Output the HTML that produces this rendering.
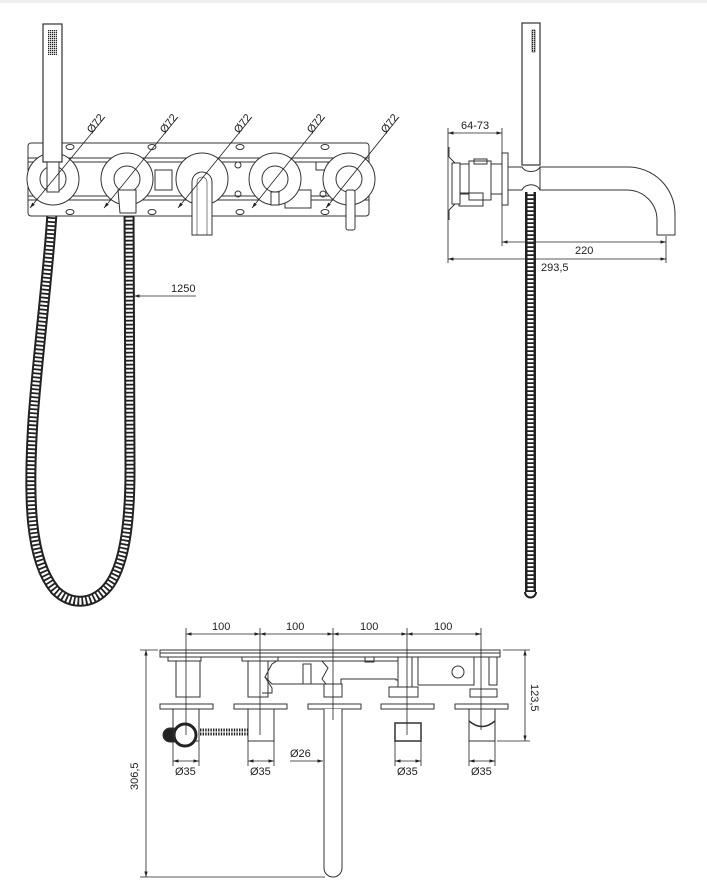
<!DOCTYPE html>
<html><head><meta charset="utf-8"><style>
html,body{margin:0;padding:0;background:#fff;}
svg{display:block;}
text{font-family:"Liberation Sans",sans-serif;font-size:11px;fill:#222;}
</style></head><body>
<svg width="707" height="884" viewBox="0 0 707 884" xmlns="http://www.w3.org/2000/svg">
<defs>
<marker id="a" viewBox="0 0 10 10" refX="10" refY="5" markerWidth="7" markerHeight="7" orient="auto-start-reverse"><path d="M0,2 L10,5 L0,8 z" fill="#222"/></marker>
<pattern id="g" width="2" height="2" patternUnits="userSpaceOnUse"><rect width="1.3" height="1.3" fill="#222"/></pattern>
</defs>
<rect x="0" y="0" width="707" height="3" fill="#eee"/>
<g fill="none" stroke="#333" stroke-width="1">
<!-- FRONT VIEW -->
<path d="M53,195 C50,260 38,350 33,420 C28,500 30,560 55,590 C70,605 90,605 105,590 C125,570 130,520 130,470 L129,200" stroke="#222" stroke-width="11"/>
<path d="M53,195 C50,260 38,350 33,420 C28,500 30,560 55,590 C70,605 90,605 105,590 C125,570 130,520 130,470 L129,200" stroke="#fff" stroke-width="7" stroke-dasharray="2.2 1.8"/>
<rect x="28" y="143" width="341" height="73" rx="3" fill="#fff"/>
<line x1="28" y1="158" x2="369" y2="158"/><line x1="28" y1="162" x2="369" y2="162"/>
<line x1="28" y1="196" x2="369" y2="196"/><line x1="28" y1="200" x2="369" y2="200"/>
<g>
<ellipse cx="70" cy="147" rx="4" ry="2.5"/><ellipse cx="152" cy="147" rx="4" ry="2.5"/><ellipse cx="240" cy="147" rx="4" ry="2.5"/><ellipse cx="325" cy="147" rx="4" ry="2.5"/>
<ellipse cx="70" cy="212" rx="4" ry="2.5"/><ellipse cx="152" cy="212" rx="4" ry="2.5"/><ellipse cx="240" cy="212" rx="4" ry="2.5"/><ellipse cx="325" cy="212" rx="4" ry="2.5"/>
<circle cx="238" cy="165" r="3"/><circle cx="238" cy="194" r="3"/><circle cx="323" cy="194" r="3"/>
<rect x="155" y="170" width="17" height="20" fill="#fff"/>
<rect x="285" y="190" width="26" height="18" fill="#fff"/>
<rect x="316" y="162" width="12" height="8" fill="#fff"/>
</g>
<g fill="#fff">
<circle cx="53" cy="179" r="26"/><circle cx="53" cy="179" r="13"/>
<circle cx="127" cy="179" r="26"/><circle cx="127" cy="179" r="13"/>
<circle cx="202" cy="179" r="26"/>
<circle cx="275" cy="179" r="26"/><circle cx="275" cy="179" r="13"/>
<circle cx="349" cy="179" r="26"/><circle cx="349" cy="179" r="13"/>
</g>
<rect x="43" y="24" width="19" height="138" fill="#fff" stroke-width="1.2"/>
<rect x="48" y="30" width="9" height="25" fill="url(#g)" stroke="none"/>
<rect x="47" y="162" width="12" height="30" fill="#fff"/>
<path d="M118,190 L136,190 L136,213 L120,213 Z" fill="#fff"/>
<path d="M192,235 L192,182 A10,10 0 0 1 212,182 L212,235 Z" fill="#fff"/>
<path d="M197,235 L197,182 A5,5 0 0 1 207,182 L207,235" stroke-width="0.6"/>
<rect x="271" y="192" width="8" height="13" fill="#fff"/>
<rect x="346" y="190" width="9" height="40" rx="2" fill="#fff"/>
<g stroke="#222" stroke-width="0.8">
<line x1="30" y1="208" x2="105" y2="117" marker-start="url(#a)"/>
<line x1="104" y1="208" x2="178" y2="117" marker-start="url(#a)"/>
<line x1="178" y1="208" x2="252" y2="117" marker-start="url(#a)"/>
<line x1="252" y1="208" x2="325" y2="117" marker-start="url(#a)"/>
<line x1="326" y1="208" x2="399" y2="117" marker-start="url(#a)"/>
</g>
<line x1="196" y1="296" x2="134" y2="296" stroke="#222" stroke-width="0.8" marker-end="url(#a)"/>

<!-- SIDE VIEW -->
<path d="M530.5,192 L530.5,592" stroke="#222" stroke-width="11"/>
<path d="M530.5,192 L530.5,594" stroke="#fff" stroke-width="6" stroke-dasharray="2.2 1.8"/>
<path d="M525,592 A5.5,5.5 0 0 0 536,592" stroke="#222" stroke-width="2"/>
<rect x="522" y="23" width="18" height="142" fill="#fff" stroke-width="1.2"/>
<rect x="532" y="30" width="3" height="22" fill="url(#g)" stroke="#222" stroke-width="0.6"/>
<path d="M508,167 L522,167 C525,173 537,173 540,167 L628,167 A47,47 0 0 1 675,214 L675,235 L657,235 L657,220 A30,30 0 0 0 627,190 L540,190 C537,183 525,183 522,190 L508,190" fill="#fff"/>
<line x1="540" y1="167" x2="540" y2="190"/>
<rect x="502" y="153" width="6" height="52" fill="#fff"/>
<rect x="460" y="164" width="42" height="30" fill="#fff"/>
<rect x="469" y="161" width="22" height="39" fill="#fff"/>
<rect x="459" y="193" width="24" height="13"/>
<rect x="452" y="163" width="8" height="41" fill="#fff"/>
<path d="M449,157 L449,147 M449,210 L449,220 M449,157 L455,163 M449,210 L455,204"/>
<rect x="474" y="159" width="13" height="5"/>
<g stroke="#222" stroke-width="0.8">
<line x1="448" y1="128" x2="448" y2="263"/><line x1="502" y1="128" x2="502" y2="153"/>
<line x1="502" y1="205" x2="502" y2="246"/><line x1="666" y1="236" x2="666" y2="263"/>
<line x1="448" y1="133" x2="502" y2="133" marker-start="url(#a)" marker-end="url(#a)"/>
<line x1="502" y1="242" x2="666" y2="242" marker-start="url(#a)" marker-end="url(#a)"/>
<line x1="448" y1="259" x2="666" y2="259" marker-start="url(#a)" marker-end="url(#a)"/>
</g>

<!-- BOTTOM VIEW -->
<rect x="160" y="650" width="340" height="7" fill="#fff"/>
<line x1="160" y1="653" x2="500" y2="653"/>
<rect x="168" y="657" width="33" height="4"/><rect x="242" y="657" width="36" height="4"/>
<path d="M265,661 L277,661 L275,666 L265,677 L272,688 L272,693 L262,693" />
<path d="M277,661 L322,661 L328,668 L322,679 L326,684 L272,684 L265,677 L272,664 Z" fill="#fff"/>
<rect x="303" y="664" width="8" height="20"/>
<path d="M322,661 L398,661 L398,680 L396,680 L396,679 L341,679 L341,684 L327,684"/>
<rect x="365" y="657" width="9" height="5"/>
<rect x="398" y="657" width="14" height="30"/>
<rect x="418" y="657" width="56" height="28"/><circle cx="458" cy="672" r="6"/>
<rect x="489" y="657" width="8" height="28"/>
<rect x="389" y="687" width="29" height="10"/>
<rect x="470" y="689" width="27" height="8"/>
<rect x="176" y="661" width="24" height="36"/><rect x="248" y="661" width="20" height="36"/>
<rect x="324" y="684" width="18" height="13"/>
<rect x="160" y="704" width="53" height="5"/><rect x="234" y="704" width="53" height="5"/>
<rect x="308" y="704" width="53" height="5"/><rect x="381" y="704" width="53" height="5"/><rect x="455" y="704" width="53" height="5"/>
<rect x="173" y="709" width="26" height="32"/><rect x="248" y="709" width="26" height="32"/>
<rect x="395" y="723" width="26" height="18" stroke-width="1.5"/>
<rect x="469" y="709" width="26" height="32"/>
<path d="M469,721 Q482,732 495,721" stroke-width="1.5"/>
<path d="M200,730 L248,730 M200,734 L248,734" stroke="#222" stroke-width="3" stroke-dasharray="1.4 1.2"/>
<circle cx="185" cy="735" r="11" stroke="#222" stroke-width="3" fill="#fff"/>
<path d="M174,728 L170,728 A7,7 0 0 0 170,742 L174,742 Z" fill="#222"/>
<path d="M324,709 L324,868 A9,9 0 0 0 342,868 L342,709" fill="#fff"/>
<g stroke="#222" stroke-width="0.8">
<line x1="186" y1="628" x2="186" y2="735"/><line x1="260" y1="628" x2="260" y2="735"/>
<line x1="333" y1="628" x2="333" y2="720"/><line x1="407" y1="628" x2="407" y2="735"/><line x1="481" y1="628" x2="481" y2="730"/>
<line x1="186" y1="634" x2="260" y2="634" marker-start="url(#a)" marker-end="url(#a)"/>
<line x1="260" y1="634" x2="333" y2="634" marker-start="url(#a)" marker-end="url(#a)"/>
<line x1="333" y1="634" x2="407" y2="634" marker-start="url(#a)" marker-end="url(#a)"/>
<line x1="407" y1="634" x2="481" y2="634" marker-start="url(#a)" marker-end="url(#a)"/>
<line x1="173" y1="741" x2="173" y2="766"/><line x1="199" y1="741" x2="199" y2="766"/>
<line x1="248" y1="741" x2="248" y2="766"/><line x1="274" y1="741" x2="274" y2="766"/>
<line x1="395" y1="741" x2="395" y2="766"/><line x1="421" y1="741" x2="421" y2="766"/>
<line x1="469" y1="741" x2="469" y2="766"/><line x1="495" y1="741" x2="495" y2="766"/>
<line x1="173" y1="761" x2="199" y2="761" marker-start="url(#a)" marker-end="url(#a)"/>
<line x1="248" y1="761" x2="274" y2="761" marker-start="url(#a)" marker-end="url(#a)"/>
<line x1="395" y1="761" x2="421" y2="761" marker-start="url(#a)" marker-end="url(#a)"/>
<line x1="469" y1="761" x2="495" y2="761" marker-start="url(#a)" marker-end="url(#a)"/>
<line x1="290" y1="761" x2="323" y2="761" marker-end="url(#a)"/>
<line x1="140" y1="650" x2="158" y2="650"/><line x1="140" y1="877" x2="325" y2="877"/>
<line x1="146" y1="650" x2="146" y2="877" marker-start="url(#a)" marker-end="url(#a)"/>
<line x1="503" y1="650" x2="530" y2="650"/><line x1="497" y1="741" x2="530" y2="741"/>
<line x1="525" y1="650" x2="525" y2="741" marker-start="url(#a)" marker-end="url(#a)"/>
</g>
</g>
<g>
<text transform="translate(92,134) rotate(-52)">Ø72</text>
<text transform="translate(165,134) rotate(-52)">Ø72</text>
<text transform="translate(239,134) rotate(-52)">Ø72</text>
<text transform="translate(312,134) rotate(-52)">Ø72</text>
<text transform="translate(386,134) rotate(-52)">Ø72</text>
<text x="171" y="292">1250</text>
<text x="461" y="129">64-73</text>
<text x="575" y="254">220</text>
<text x="541" y="271">293,5</text>
<text x="212" y="630">100</text>
<text x="286" y="630">100</text>
<text x="360" y="630">100</text>
<text x="434" y="630">100</text>
<text x="175" y="775">Ø35</text>
<text x="250" y="775">Ø35</text>
<text x="397" y="775">Ø35</text>
<text x="471" y="775">Ø35</text>
<text x="290" y="757">Ø26</text>
<text transform="translate(138,790) rotate(-90)">306,5</text>
<text transform="translate(531,684) rotate(90)">123,5</text>
</g>
</svg>
</body></html>
